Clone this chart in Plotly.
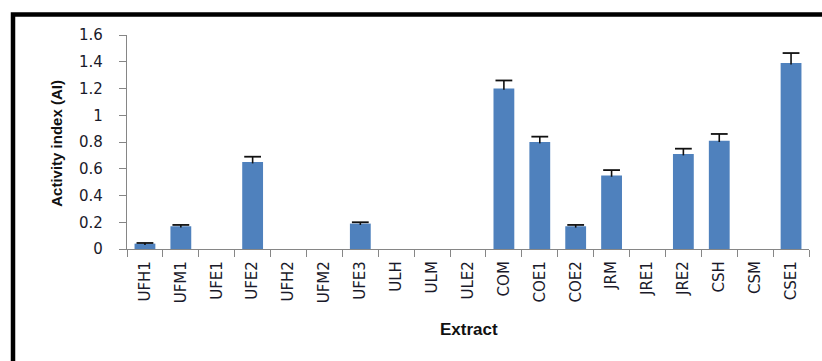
import plotly.graph_objects as go

# Activity index per extract, with upper standard-error bars
extracts = ["UFH1", "UFM1", "UFE1", "UFE2", "UFH2", "UFM2", "UFE3", "ULH", "ULM", "ULE2",
            "COM", "COE1", "COE2", "JRM", "JRE1", "JRE2", "CSH", "CSM", "CSE1"]
activity_index = [0.04, 0.17, 0, 0.65, 0, 0, 0.19, 0, 0, 0,
                  1.20, 0.80, 0.17, 0.55, 0, 0.71, 0.81, 0, 1.39]
error_plus = [0.005, 0.01, None, 0.04, None, None, 0.01, None, None, None,
              0.06, 0.04, 0.01, 0.04, None, 0.04, 0.05, None, 0.075]
y_ticks = [0, 0.2, 0.4, 0.6, 0.8, 1, 1.2, 1.4, 1.6]

W, H = 822, 361
L, R, T, B = 127, 13, 34.5, 112
plot_w = W - L - R
plot_h = H - T - B


def px_x(px):
    return (px - L) / plot_w


def px_y(py):
    return (H - B - py) / plot_h


axis_color = "#868686"
text_color = "#1a1a2a"
err_color = "#111111"

# Upper error bars only: one stem segment per bar from its top to the cap, plus the cap
fig = go.Figure()
fig.add_trace(go.Bar(
    x=extracts,
    y=activity_index,
    marker=dict(color="#4F81BD", line=dict(width=0)),
))
for cat, val, err in zip(extracts, activity_index, error_plus):
    if err is None:
        continue
    fig.add_trace(go.Scatter(
        x=[cat, cat], y=[val - 0.01, val + err], mode="lines",
        line=dict(color=err_color, width=1.6), hoverinfo="skip",
    ))
    fig.add_trace(go.Scatter(
        x=[cat], y=[val + err], mode="markers",
        marker=dict(symbol="line-ew", size=12, line=dict(color=err_color, width=1.8)),
        hoverinfo="skip",
    ))

fig.update_layout(
    width=W, height=H,
    margin=dict(l=L, r=R, t=T, b=B, pad=0),
    paper_bgcolor="white", plot_bgcolor="white",
    bargap=0.42,
    showlegend=False,
    font=dict(family="DejaVu Sans", color=text_color, size=15),
    xaxis=dict(
        type="category", categoryorder="array", categoryarray=extracts,
        range=[-0.5, len(extracts) - 0.5],
        showline=True, linecolor=axis_color, linewidth=1.3,
        ticks="outside", tickson="boundaries", ticklen=7,
        tickcolor=axis_color, tickwidth=1.3,
        tickangle=-90, tickfont=dict(size=15),
        showgrid=False, zeroline=False,
        ticklabelstandoff=5,
    ),
    yaxis=dict(
        range=[0, 1.6], tickvals=y_ticks,
        showline=True, linecolor=axis_color, linewidth=1.3,
        ticks="outside", ticklen=7, tickcolor=axis_color, tickwidth=1.3,
        tickfont=dict(size=15),
        showgrid=False, zeroline=False,
        ticklabelstandoff=13,
    ),
    annotations=[
        dict(text="<b>Activity index (AI)</b>", xref="paper", yref="paper",
             x=px_x(57), y=px_y(143.5), textangle=-90, showarrow=False,
             xanchor="center", yanchor="middle",
             font=dict(family="Liberation Sans", size=15, color="#111111")),
        dict(text="<b>Extract</b>", xref="paper", yref="paper",
             x=px_x(469), y=px_y(330), showarrow=False,
             xanchor="center", yanchor="middle",
             font=dict(family="Liberation Sans", size=17, color="#111111")),
    ],
    shapes=[
        dict(type="rect", xref="paper", yref="paper",
             x0=px_x(13), x1=px_x(840), y0=px_y(380), y1=px_y(14),
             line=dict(color="black", width=4.5), fillcolor="rgba(0,0,0,0)",
             layer="above"),
    ],
)

fig.write_html("out.html")
